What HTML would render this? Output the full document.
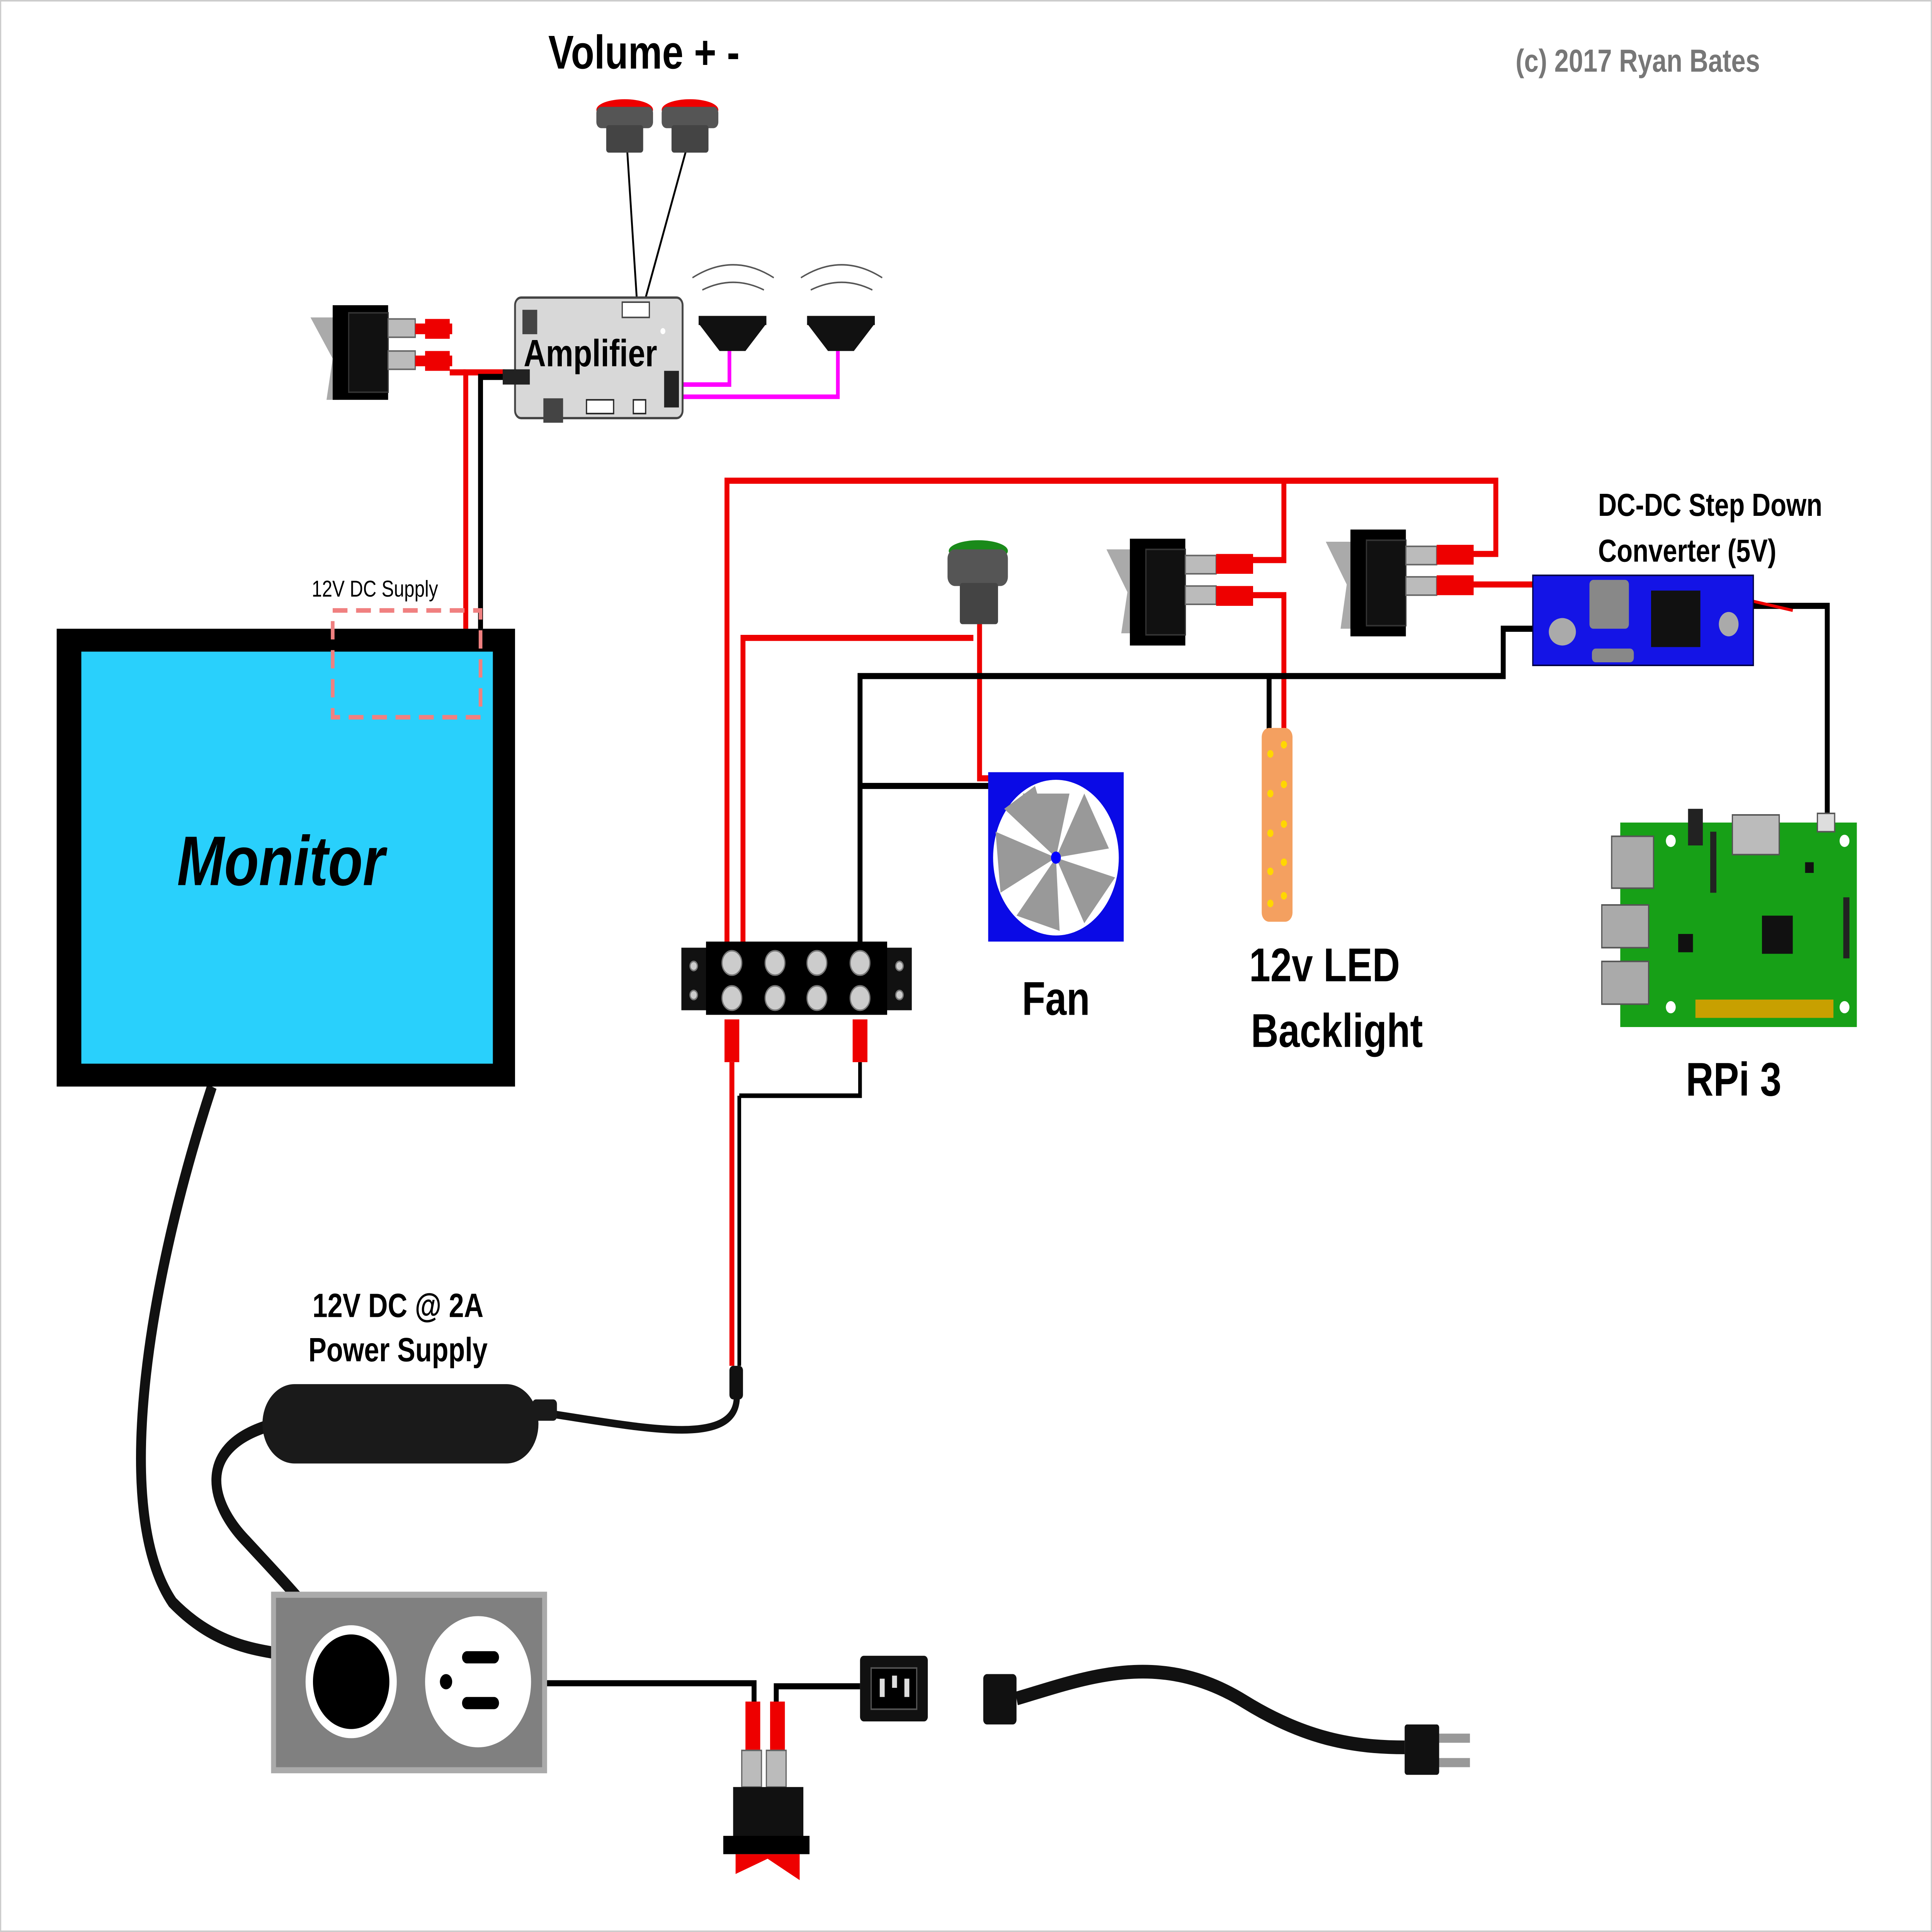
<!DOCTYPE html>
<html><head><meta charset="utf-8"><style>html,body{margin:0;padding:0;background:#fff;width:100%;height:100%;overflow:hidden}svg{display:block;position:fixed;left:0;top:0;width:100vw;height:100vh}</style></head><body>
<svg viewBox="0 0 1568 1266" preserveAspectRatio="none" xmlns="http://www.w3.org/2000/svg" font-family="Liberation Sans, sans-serif">
<rect x="0.5" y="0.5" width="1567" height="1265" fill="#fff" stroke="#ccc"/>
<text x="445" y="45" font-size="31" font-weight="bold">Volume + -</text>
<text x="1230" y="47" font-size="21" font-weight="bold" fill="#777">(c) 2017 Ryan Bates</text>

<g fill="none" stroke-width="4">
<path d="M378 412 V244 H410" stroke="#e00"/>
<path d="M365 244 H378" stroke="#e00"/>
<path d="M390 412 V247 H410" stroke="#000"/>
<path d="M590 622 V315 H1214 V363 H1195" stroke="#e00"/>
<path d="M1042 315 V367 H1015" stroke="#e00"/>
<path d="M603 622 V418 H790" stroke="#e00"/>
<path d="M795 405 V510 H806" stroke="#e00"/>
<path d="M1015 390 H1042 V480" stroke="#e00"/>
<path d="M1195 383 H1244" stroke="#e00"/>
<path d="M698 622 V443 H1220 V412 H1245" stroke="#000"/>
<path d="M698 515 H806" stroke="#000"/>
<path d="M1030 443 V478" stroke="#000"/>
<path d="M1423 397 H1483 V537" stroke="#000"/>
<path d="M1423 394 L1455 400" stroke="#e00" stroke-width="2"/>
<path d="M698 696 V718 H600" stroke="#000" stroke-width="3"/>
<path d="M594 696 V895" stroke="#e00"/>
<path d="M600 718 V895" stroke="#000" stroke-width="3"/>
<path d="M598 915 C598 950 520 935 435 925" stroke="#111" stroke-width="5"/>
<path d="M548 252 H592 V230 M548 260 H680 V230" stroke="#f0f" stroke-width="3"/>
<path d="M509 98 L517 198 M557 98 L523 198" stroke="#000" stroke-width="1.5"/>
<path d="M442 1103 H612 V1118" stroke="#000"/>
<path d="M630 1118 V1105 H698" stroke="#000"/>
</g>
<path d="M172 712 C120 840 90 990 140 1050 C170 1075 200 1080 222 1083" fill="none" stroke="#111" stroke-width="8"/>
<path d="M215 935 C160 950 170 985 200 1010 C240 1045 265 1065 280 1095" fill="none" stroke="#111" stroke-width="8"/>
<path d="M825 1113 C880 1100 940 1080 1010 1115 C1060 1140 1100 1145 1140 1145" fill="none" stroke="#111" stroke-width="9"/>

<rect x="46" y="412" width="372" height="300" fill="#000"/>
<rect x="66" y="427" width="334" height="270" fill="#29d0fc"/>
<text x="228" y="580" font-size="46" font-weight="bold" font-style="italic" text-anchor="middle">Monitor</text>
<rect x="270" y="400" width="120" height="70" fill="none" stroke="#f08080" stroke-width="3" stroke-dasharray="12,7"/>
<text x="253" y="391" font-size="15">12V DC Supply</text>

<polygon points="252,208 275,208 275,262 265,262 270,235" fill="#aaa"/>
<rect x="270" y="200" width="45" height="62" fill="#000"/>
<rect x="283" y="205" width="32" height="52" fill="#111" stroke="#333"/>
<rect x="315" y="209" width="22" height="12" fill="#bbb" stroke="#666"/>
<rect x="315" y="230" width="22" height="12" fill="#bbb" stroke="#666"/>
<rect x="337" y="212" width="30" height="7" fill="#e00"/><rect x="345" y="209" width="20" height="13" fill="#e00"/>
<rect x="337" y="233" width="30" height="7" fill="#e00"/><rect x="345" y="230" width="20" height="13" fill="#e00"/>

<rect x="418" y="195" width="136" height="79" rx="5" fill="#d8d8d8" stroke="#444" stroke-width="1.5"/>
<rect x="424" y="203" width="12" height="16" fill="#444"/>
<rect x="505" y="198" width="22" height="10" fill="#fff" stroke="#444"/>
<rect x="408" y="242" width="22" height="10" fill="#222"/>
<rect x="441" y="261" width="16" height="16" fill="#444"/>
<rect x="476" y="262" width="22" height="9" fill="#fff" stroke="#222"/>
<rect x="514" y="262" width="10" height="9" fill="#fff" stroke="#222"/>
<rect x="539" y="243" width="12" height="24" fill="#222"/>
<circle cx="538" cy="217" r="2" fill="#fff"/>
<text x="425" y="240" font-size="25" font-weight="bold">Amplifier</text>

<ellipse cx="507" cy="72" rx="23" ry="7" fill="#e00"/><rect x="484" y="70" width="46" height="14" rx="4" fill="#555"/><rect x="492" y="82" width="30" height="18" rx="2" fill="#444"/>
<ellipse cx="560" cy="72" rx="23" ry="7" fill="#e00"/><rect x="537" y="70" width="46" height="14" rx="4" fill="#555"/><rect x="545" y="82" width="30" height="18" rx="2" fill="#444"/>
<g fill="none" stroke="#555" stroke-width="1">
<path d="M562 182 Q595 165 628 182 M570 190 Q595 180 620 190"/>
<path d="M650 182 Q683 165 716 182 M658 190 Q683 180 708 190"/>
</g>
<rect x="567" y="207" width="55" height="6" fill="#111"/><polygon points="567,212 622,212 605,230 584,230" fill="#111"/>
<rect x="655" y="207" width="55" height="6" fill="#111"/><polygon points="655,212 710,212 693,230 672,230" fill="#111"/>

<ellipse cx="794" cy="361" rx="24" ry="7" fill="#1a8a1a"/>
<rect x="769" y="360" width="49" height="24" rx="6" fill="#555"/>
<rect x="779" y="382" width="31" height="27" rx="2" fill="#444"/>

<polygon points="898,360 920,360 920,415 910,415 915,388" fill="#aaa"/>
<rect x="917" y="353" width="45" height="70" fill="#000"/><rect x="930" y="360" width="32" height="56" fill="#111" stroke="#333"/>
<rect x="962" y="364" width="25" height="12" fill="#bbb" stroke="#666"/><rect x="962" y="384" width="25" height="12" fill="#bbb" stroke="#666"/>
<rect x="987" y="363" width="30" height="13" fill="#e00"/><rect x="987" y="384" width="30" height="13" fill="#e00"/>
<polygon points="1076,355 1098,355 1098,412 1088,412 1093,383" fill="#aaa"/>
<rect x="1096" y="347" width="45" height="70" fill="#000"/><rect x="1109" y="354" width="32" height="56" fill="#111" stroke="#333"/>
<rect x="1141" y="358" width="25" height="12" fill="#bbb" stroke="#666"/><rect x="1141" y="378" width="25" height="12" fill="#bbb" stroke="#666"/>
<rect x="1166" y="357" width="30" height="13" fill="#e00"/><rect x="1166" y="377" width="30" height="13" fill="#e00"/>

<text x="1297" y="338" font-size="21" font-weight="bold">DC-DC Step Down</text>
<text x="1297" y="368" font-size="21" font-weight="bold">Converter (5V)</text>
<rect x="1244" y="377" width="179" height="59" fill="#1414e6" stroke="#004"/>
<ellipse cx="1268" cy="414" rx="11" ry="9" fill="#aaa"/>
<rect x="1290" y="380" width="32" height="32" rx="3" fill="#888"/>
<rect x="1292" y="425" width="34" height="9" rx="3" fill="#888"/>
<rect x="1340" y="387" width="40" height="37" fill="#111"/>
<circle cx="1403" cy="409" r="8" fill="#aaa"/>

<rect x="1024" y="477" width="25" height="127" rx="6" fill="#f4a060"/>
<g fill="#ffd700"><circle cx="1031" cy="494" r="2.5"/><circle cx="1042" cy="488" r="2.5"/><circle cx="1031" cy="520" r="2.5"/><circle cx="1042" cy="514" r="2.5"/><circle cx="1031" cy="546" r="2.5"/><circle cx="1042" cy="540" r="2.5"/><circle cx="1031" cy="571" r="2.5"/><circle cx="1042" cy="565" r="2.5"/><circle cx="1031" cy="592" r="2.5"/><circle cx="1042" cy="587" r="2.5"/></g>
<text x="1075" y="643" font-size="31" font-weight="bold" text-anchor="middle">12v LED</text>
<text x="1085" y="686" font-size="31" font-weight="bold" text-anchor="middle">Backlight</text>

<rect x="802" y="506" width="110" height="111" fill="#0a0ae6"/>
<circle cx="857" cy="562" r="51" fill="#fff"/>
<g fill="#999">
<polygon points="857,562 830,520 868,520"/><polygon points="857,562 880,520 900,556"/><polygon points="857,562 905,575 880,605"/>
<polygon points="857,562 860,610 825,600"/><polygon points="857,562 812,585 808,545"/><polygon points="857,562 815,530 840,515"/>
</g>
<circle cx="857" cy="562" r="4" fill="#00f"/>
<text x="857" y="665" font-size="31" font-weight="bold" text-anchor="middle">Fan</text>

<rect x="1315" y="539" width="192" height="134" fill="#17a017"/>
<rect x="1308" y="548" width="34" height="34" fill="#aaa" stroke="#555"/>
<rect x="1300" y="593" width="38" height="28" fill="#aaa" stroke="#555"/>
<rect x="1300" y="630" width="38" height="28" fill="#aaa" stroke="#555"/>
<rect x="1406" y="534" width="38" height="26" fill="#bbb" stroke="#555"/>
<rect x="1370" y="530" width="12" height="24" fill="#222"/>
<rect x="1475" y="533" width="14" height="12" fill="#ddd" stroke="#555"/>
<rect x="1388" y="545" width="5" height="40" fill="#222"/><rect x="1496" y="588" width="5" height="40" fill="#222"/>
<rect x="1430" y="600" width="25" height="25" fill="#111"/><rect x="1362" y="612" width="12" height="12" fill="#111"/>
<rect x="1376" y="655" width="112" height="12" fill="#c8a000"/>
<circle cx="1356" cy="551" r="4" fill="#fff"/><circle cx="1497" cy="551" r="4" fill="#fff"/><circle cx="1356" cy="660" r="4" fill="#fff"/><circle cx="1497" cy="660" r="4" fill="#fff"/>
<rect x="1465" y="565" width="7" height="7" fill="#111"/>
<text x="1407" y="718" font-size="31" font-weight="bold" text-anchor="middle">RPi 3</text>

<rect x="553" y="621" width="187" height="41" fill="#111"/>
<rect x="573" y="617" width="147" height="48" fill="#000"/>
<g fill="#ccc" stroke="#777"><circle cx="563" cy="633" r="3"/><circle cx="563" cy="652" r="3"/><circle cx="730" cy="633" r="3"/><circle cx="730" cy="652" r="3"/>
<circle cx="594" cy="631" r="8"/><circle cx="629" cy="631" r="8"/><circle cx="663" cy="631" r="8"/><circle cx="698" cy="631" r="8"/>
<circle cx="594" cy="654" r="8"/><circle cx="629" cy="654" r="8"/><circle cx="663" cy="654" r="8"/><circle cx="698" cy="654" r="8"/></g>
<rect x="588" y="668" width="12" height="28" fill="#e00"/><rect x="692" y="668" width="12" height="28" fill="#e00"/>
<rect x="592" y="895" width="11" height="22" rx="3" fill="#111"/>

<text x="323" y="863" font-size="22" font-weight="bold" text-anchor="middle">12V DC @ 2A</text>
<text x="323" y="892" font-size="22" font-weight="bold" text-anchor="middle">Power Supply</text>
<rect x="213" y="907" width="224" height="52" rx="26" fill="#1a1a1a"/>
<rect x="432" y="917" width="20" height="14" rx="3" fill="#1a1a1a"/>

<rect x="222" y="1045" width="220" height="115" fill="#808080" stroke="#aaa" stroke-width="4"/>
<circle cx="285" cy="1102" r="37" fill="#fff"/><circle cx="285" cy="1102" r="31" fill="#000"/>
<circle cx="388" cy="1102" r="43" fill="#fff"/>
<rect x="375" y="1082" width="30" height="8" rx="4" fill="#000"/><rect x="375" y="1112" width="30" height="8" rx="4" fill="#000"/>
<circle cx="362" cy="1102" r="5" fill="#000"/>

<rect x="605" y="1115" width="12" height="32" fill="#e00"/><rect x="625" y="1115" width="12" height="32" fill="#e00"/>
<rect x="602" y="1147" width="16" height="24" fill="#bbb" stroke="#666"/><rect x="622" y="1147" width="16" height="24" fill="#bbb" stroke="#666"/>
<rect x="595" y="1171" width="57" height="33" fill="#111"/>
<rect x="587" y="1203" width="70" height="12" fill="#000"/>
<polygon points="597,1215 649,1215 649,1232 623,1218 597,1228" fill="#e00"/>

<rect x="698" y="1085" width="55" height="43" rx="3" fill="#111"/>
<rect x="707" y="1093" width="37" height="27" fill="#000" stroke="#555"/>
<rect x="714" y="1100" width="4" height="12" fill="#ddd"/><rect x="724" y="1098" width="4" height="8" fill="#ddd"/><rect x="734" y="1100" width="4" height="12" fill="#ddd"/>

<rect x="798" y="1097" width="27" height="33" rx="3" fill="#111"/>
<rect x="1140" y="1130" width="28" height="33" rx="2" fill="#111"/>
<rect x="1168" y="1136" width="25" height="6" fill="#999"/><rect x="1168" y="1152" width="25" height="6" fill="#999"/>
</svg>
</body></html>
